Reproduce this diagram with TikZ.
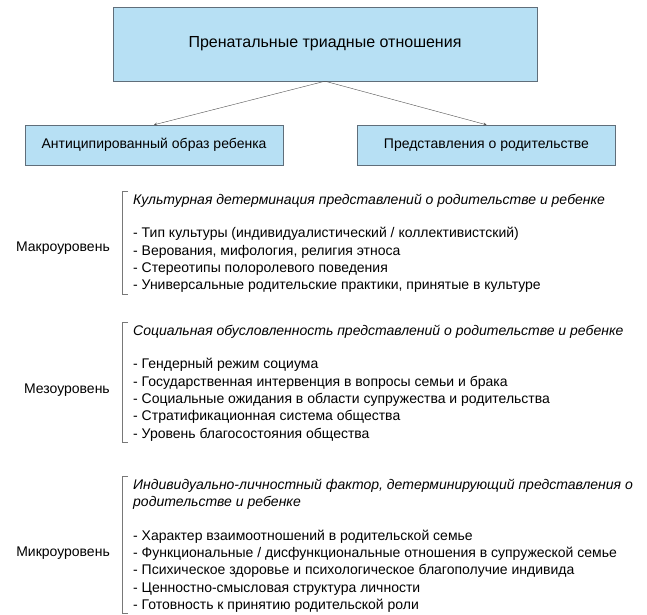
\documentclass[tikz,border=0pt]{standalone}
\usepackage{fontspec}
\setmainfont{Liberation Sans}
\usetikzlibrary{positioning}
\definecolor{boxblue}{RGB}{183,224,244}
\definecolor{boxline}{RGB}{96,110,122}
\definecolor{linegray}{RGB}{80,80,80}
\definecolor{bracketgray}{RGB}{120,120,120}
\begin{document}
\begin{tikzpicture}[x=1pt, y=-1pt, >=stealth, font=\fontsize{14}{17.3}\selectfont]
		
		% Styles
		\tikzstyle{block} = [draw=boxline, fill=boxblue, minimum width=258pt, minimum height=40pt, inner sep=0pt];
		\tikzstyle{levelbox} = [align=left, anchor=north west, inner sep=0pt];
		\tikzstyle{bracket} = [draw=bracketgray, thin];
		
		\useasboundingbox (0,0) rectangle (647,614);
		
		% Nodes
		\node[block, minimum width=424pt, minimum height=74pt, font=\fontsize{16}{18}\selectfont] (triad) at (325,44)
		{Пренатальные триадные отношения};
		
		\node[block] (child) at (154,145)
		{Антиципированный образ ребенка};
		
		\node[block] (parent) at (486.5,145)
		{Представления о родительстве};
		
		\node[levelbox] (macro) at (133,194)
		{\itshape Культурная детерминация представлений о родительстве и ребенке\\[16pt]
		 - Тип культуры (индивидуалистический / коллективистский)\\
		 - Верования, мифология, религия этноса\\
		 - Стереотипы полоролевого поведения\\
		 - Универсальные родительские практики, принятые в культуре};
		
		\node[levelbox] (meso) at (133,325)
		{\itshape Социальная обусловленность представлений о родительстве и ребенке\\[16pt]
		 - Гендерный режим социума\\
		 - Государственная интервенция в вопросы семьи и брака\\
		 - Социальные ожидания в области супружества и родительства\\
		 - Стратификационная система общества\\
		 - Уровень благосостояния общества};
		
		\node[levelbox] (micro) at (133,479)
		{\itshape Индивидуально-личностный фактор, детерминирующий представления о\\
		 \itshape родительстве и ребенке\\[16pt]
		 - Характер взаимоотношений в родительской семье\\
		 - Функциональные / дисфункциональные отношения в супружеской семье\\
		 - Психическое здоровье и психологическое благополучие индивида\\
		 - Ценностно-смысловая структура личности\\
		 - Готовность к принятию родительской роли};
		
		\node[anchor=east, inner sep=0pt] (macrolabel) at (110,248) {Макроуровень};
		\node[anchor=east, inner sep=0pt] (mesolabel) at (110,390) {Мезоуровень};
		\node[anchor=east, inner sep=0pt] (microlabel) at (110,553) {Микроуровень};
		
		% Arrows
		\draw[->, linegray] (triad.south) -- (child.north);
		\draw[->, linegray] (triad.south) -- (parent.north);
		
		% Brackets
		\foreach \lvl in {macro, meso, micro}
		\draw[bracket] ([xshift=-5pt, yshift=3pt]\lvl.north west) -| ([xshift=-11pt, yshift=-1pt]\lvl.south west) -- ([xshift=-5pt, yshift=-1pt]\lvl.south west);
		
	\end{tikzpicture}
\end{document}
